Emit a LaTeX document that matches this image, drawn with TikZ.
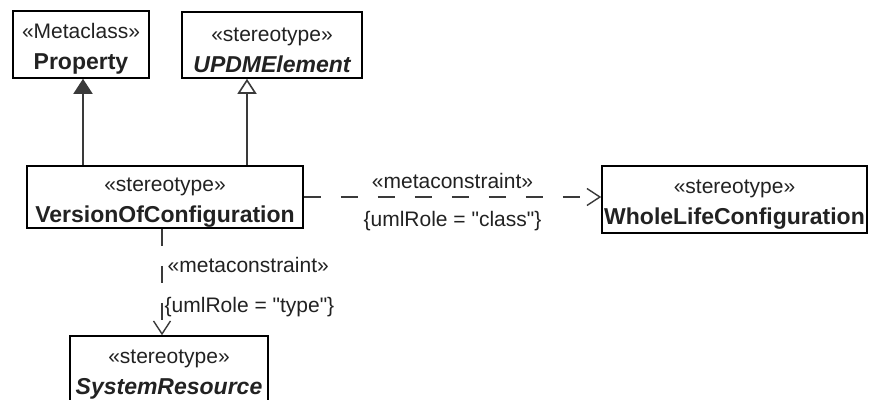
\documentclass[tikz,border=0pt]{standalone}
\usepackage{fontspec}
\setmainfont{Liberation Sans}
\usetikzlibrary{arrows.meta}

\definecolor{umlline}{HTML}{3A3A3A}
\definecolor{umltext}{HTML}{222222}

\tikzset{
  classbox/.style={draw=black, line width=1.6pt, rectangle, align=center,
    inner sep=0pt, text=umltext, font=\fontsize{21}{31}\selectfont},
  extendsolid/.style={draw=umlline, line width=1.6pt,
    -{Triangle[width=19pt,length=15pt,fill=umlline]}},
  extendopen/.style={draw=umlline, line width=1.6pt,
    -{Triangle[open,width=19pt,length=15pt,fill=white]}},
  metaline/.style={draw=umlline, line width=1.4pt, dash pattern=on 17pt off 20pt,
    -{Straight Barb[width=17pt,length=13pt]}},
  metalabel/.style={text=umltext, font=\fontsize{21}{24}\selectfont, inner sep=2pt}
}

\newcommand{\umlname}[1]{{\fontsize{23}{31}\selectfont\bfseries #1}}
\newcommand{\umlclass}[2]{\rule{0pt}{24pt}«#1»\\\umlname{#2}}

\begin{document}
\begin{tikzpicture}[x=1pt,y=-1pt]
    \def\xprop{83}
    \def\xupdm{247}
    \def\xsys{162}

    \useasboundingbox[fill=white] (0,0) rectangle (870,399);

    % classes
    \node[classbox, minimum width=136pt, minimum height=67pt] (prop) at (81,44.5)
        {\umlclass{Metaclass}{Property}};
    \node[classbox, minimum width=180pt, minimum height=66pt] (updm) at (272,45)
        {\umlclass{stereotype}{\itshape UPDMElement}};
    \node[classbox, minimum width=276pt, minimum height=62pt] (voc) at (165,197)
        {\umlclass{stereotype}{VersionOfConfiguration}};
    \node[classbox, minimum width=265pt, minimum height=67pt] (whole) at (734.5,199.5)
        {\umlclass{stereotype}{WholeLifeConfiguration}};
    \node[classbox, minimum width=198pt, minimum height=67pt] (sys) at (169,369.5)
        {\umlclass{stereotype}{\itshape SystemResource}};

    % generalizations
    \draw[extendsolid] (voc.north -| \xprop,0) -- (prop.south -| \xprop,0);
    \draw[extendopen] (voc.north -| \xupdm,0) -- (updm.south -| \xupdm,0);

    % metaconstraints
    \draw[metaline] (voc.east) -- (whole.west |- voc.east)
        node[metalabel, midway, above=6pt] {«metaconstraint»}
        node[metalabel, midway, below=12pt] {\{umlRole = \textquotedbl class\textquotedbl\}};
    \draw[metaline] (voc.south -| \xsys,0) -- (sys.north -| \xsys,0)
        node[metalabel, pos=0.34, right=3pt] {«metaconstraint»}
        node[metalabel, pos=0.74, right=0pt] {\{umlRole = \textquotedbl type\textquotedbl\}};

\end{tikzpicture}
\end{document}
